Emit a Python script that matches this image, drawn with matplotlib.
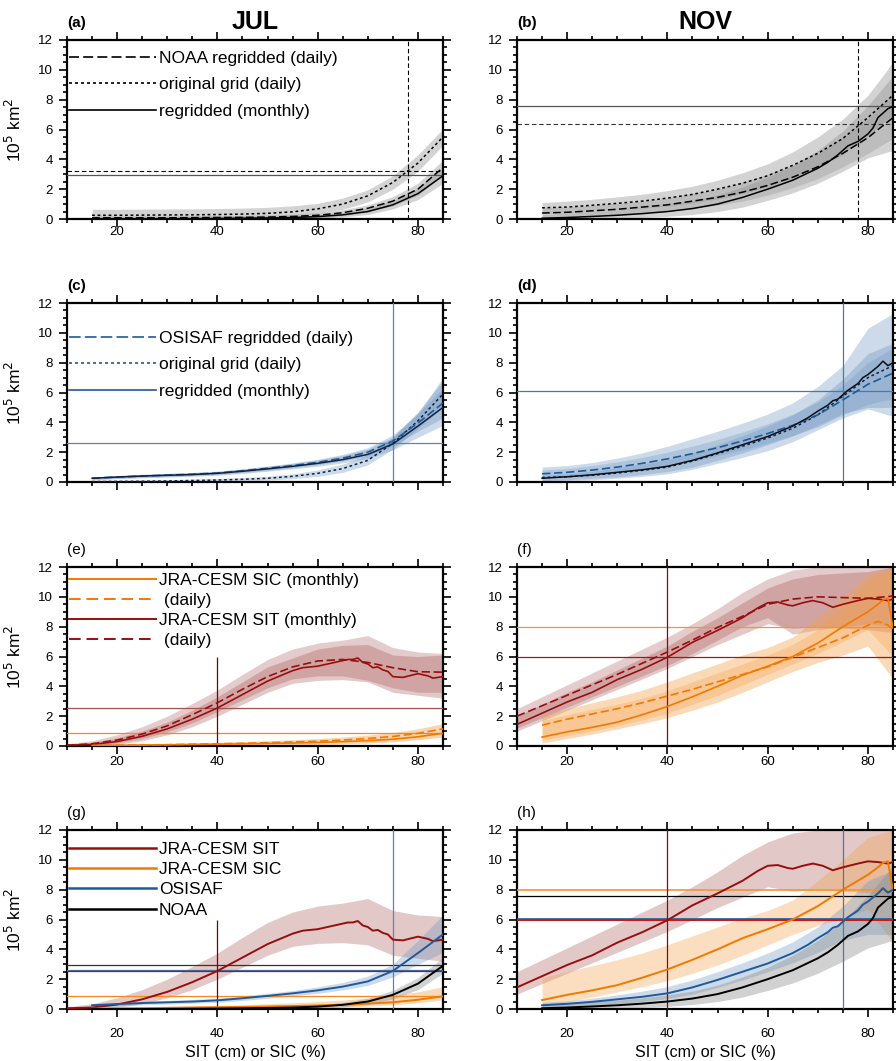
import numpy as np
import matplotlib
matplotlib.use('Agg')
import matplotlib.pyplot as plt
from matplotlib.lines import Line2D
from matplotlib.ticker import MultipleLocator

plt.rcParams['font.family'] = ['Liberation Sans', 'DejaVu Sans']

# ---------------- data ----------------
x_sic = [15, 20, 25, 30, 35, 40, 45, 50, 55, 60, 65, 70, 75, 80, 85]
x_sit = [10, 15, 20, 25, 30, 35, 40, 45, 50, 55, 60, 65, 70, 75, 80, 85]

# NOAA, JUL
noaa_jul_orig = [0.25, 0.25, 0.26, 0.27, 0.28, 0.3, 0.33, 0.38, 0.48, 0.68, 1.0, 1.55, 2.45, 3.75, 5.5]
noaa_jul_orig_lo = [0.0, 0.0, 0.0, 0.0, 0.0, 0.05, 0.08, 0.12, 0.2, 0.38, 0.65, 1.15, 2.0, 3.2, 4.95]
noaa_jul_orig_hi = [0.65, 0.65, 0.66, 0.67, 0.68, 0.7, 0.73, 0.78, 0.88, 1.05, 1.4, 1.95, 2.9, 4.3, 6.05]
noaa_jul_day = [0.08, 0.08, 0.08, 0.08, 0.09, 0.1, 0.11, 0.13, 0.17, 0.25, 0.42, 0.72, 1.2, 2.0, 3.45]
noaa_jul_day_lo = [0.0, 0.0, 0.0, 0.0, 0.0, 0.0, 0.0, 0.0, 0.02, 0.08, 0.22, 0.48, 0.9, 1.6, 2.95]
noaa_jul_day_hi = [0.2, 0.2, 0.2, 0.2, 0.21, 0.22, 0.24, 0.27, 0.32, 0.42, 0.62, 0.95, 1.5, 2.4, 3.95]
noaa_jul_mon = [0.0, 0.0, 0.0, 0.01, 0.02, 0.03, 0.05, 0.07, 0.1, 0.16, 0.28, 0.5, 0.95, 1.7, 2.9]
noaa_jul_mon_lo = [0.0, 0.0, 0.0, 0.0, 0.0, 0.0, 0.0, 0.0, 0.02, 0.06, 0.14, 0.3, 0.68, 1.3, 2.4]
noaa_jul_mon_hi = [0.05, 0.05, 0.06, 0.07, 0.08, 0.1, 0.12, 0.15, 0.2, 0.28, 0.43, 0.72, 1.25, 2.1, 3.45]

# NOAA, NOV
noaa_nov_orig = [0.75, 0.8, 0.92, 1.05, 1.2, 1.4, 1.65, 2.0, 2.4, 2.9, 3.6, 4.4, 5.4, 6.8, 8.3]
noaa_nov_orig_lo = [0.35, 0.4, 0.5, 0.6, 0.72, 0.88, 1.08, 1.35, 1.7, 2.15, 2.75, 3.45, 4.35, 5.6, 7.0]
noaa_nov_orig_hi = [1.1, 1.2, 1.32, 1.48, 1.66, 1.9, 2.2, 2.6, 3.1, 3.7, 4.5, 5.5, 6.7, 8.3, 10.5]
noaa_nov_day = [0.4, 0.45, 0.55, 0.65, 0.8, 0.95, 1.2, 1.45, 1.8, 2.25, 2.8, 3.5, 4.4, 5.45, 6.8]
noaa_nov_day_lo = [0.1, 0.15, 0.22, 0.3, 0.4, 0.52, 0.7, 0.92, 1.2, 1.6, 2.1, 2.7, 3.5, 4.4, 5.4]
noaa_nov_day_hi = [0.75, 0.8, 0.92, 1.05, 1.2, 1.4, 1.7, 2.0, 2.45, 3.0, 3.6, 4.4, 5.5, 6.7, 8.4]
x_noaa_nov_mon = [15, 20, 25, 30, 35, 40, 45, 50, 55, 60, 65, 70, 72, 74, 76, 78, 80, 81, 82, 83, 84, 85]
noaa_nov_mon = [0.05, 0.1, 0.17, 0.25, 0.36, 0.5, 0.7, 1.0, 1.45, 2.0, 2.6, 3.4, 3.8, 4.3, 4.9,
                5.2, 5.7, 6.1, 6.8, 7.1, 7.4, 7.55]
noaa_nov_mon_lo = [0.0, 0.0, 0.02, 0.05, 0.1, 0.18, 0.3, 0.5, 0.8, 1.25, 1.75, 2.4, 3.2, 4.1, 4.6]
noaa_nov_mon_hi = [0.3, 0.4, 0.5, 0.6, 0.75, 0.95, 1.2, 1.6, 2.15, 2.8, 3.6, 4.6, 5.9, 7.6, 9.6]

# OSISAF, JUL
osi_jul_mon = [0.25, 0.33, 0.4, 0.45, 0.5, 0.58, 0.72, 0.88, 1.05, 1.25, 1.5, 1.85, 2.55, 3.75, 5.0]
osi_jul_mon_lo = [0.15, 0.22, 0.28, 0.33, 0.38, 0.45, 0.57, 0.72, 0.88, 1.05, 1.28, 1.58, 2.15, 3.0, 3.8]
osi_jul_mon_hi = [0.35, 0.44, 0.52, 0.58, 0.64, 0.72, 0.88, 1.05, 1.24, 1.48, 1.78, 2.2, 3.0, 4.6, 6.3]
osi_jul_day = [0.25, 0.33, 0.4, 0.46, 0.52, 0.6, 0.75, 0.92, 1.1, 1.32, 1.6, 2.0, 2.75, 3.95, 5.3]
osi_jul_day_lo = [0.18, 0.25, 0.31, 0.36, 0.42, 0.5, 0.63, 0.78, 0.95, 1.15, 1.4, 1.75, 2.4, 3.4, 4.3]
osi_jul_day_hi = [0.33, 0.42, 0.5, 0.57, 0.63, 0.72, 0.88, 1.07, 1.28, 1.52, 1.85, 2.3, 3.15, 4.6, 7.0]
osi_jul_orig = [0.03, 0.04, 0.05, 0.07, 0.1, 0.13, 0.18, 0.25, 0.38, 0.58, 0.9, 1.45, 2.6, 4.1, 5.9]
osi_jul_orig_lo = [0.0, 0.0, 0.0, 0.01, 0.03, 0.05, 0.08, 0.13, 0.22, 0.38, 0.65, 1.15, 2.2, 3.6, 5.0]
osi_jul_orig_hi = [0.08, 0.1, 0.12, 0.15, 0.19, 0.24, 0.3, 0.38, 0.55, 0.8, 1.2, 1.8, 3.0, 4.7, 6.8]

# OSISAF, NOV
osi_nov_day = [0.55, 0.65, 0.8, 1.0, 1.25, 1.55, 1.9, 2.3, 2.75, 3.25, 3.8, 4.5, 5.5, 6.55, 7.3]
osi_nov_day_lo = [0.3, 0.38, 0.5, 0.65, 0.85, 1.1, 1.4, 1.75, 2.15, 2.6, 3.1, 3.7, 4.5, 5.2, 5.6]
osi_nov_day_hi = [0.8, 0.9, 1.1, 1.35, 1.65, 2.0, 2.4, 2.85, 3.35, 3.9, 4.55, 5.35, 6.5, 8.0, 9.0]
osi_nov_orig = [0.3, 0.35, 0.45, 0.6, 0.78, 1.0, 1.4, 1.9, 2.4, 2.95, 3.6, 4.5, 5.75, 7.0, 7.8]
osi_nov_orig_lo = [0.05, 0.1, 0.15, 0.25, 0.38, 0.55, 0.85, 1.25, 1.65, 2.1, 2.7, 3.5, 4.3, 4.9, 4.4]
osi_nov_orig_hi = [1.0, 1.1, 1.3, 1.6, 1.95, 2.4, 2.9, 3.4, 3.95, 4.55, 5.3, 6.4, 7.8, 10.3, 11.3]
x_osi_nov_mon = [15, 20, 25, 30, 35, 40, 45, 50, 55, 60, 65, 68, 70, 72, 73, 74, 76, 78, 79, 80, 82, 83, 84, 85]
osi_nov_mon = [0.25, 0.35, 0.48, 0.65, 0.82, 1.05, 1.45, 1.95, 2.5, 3.05, 3.75, 4.3, 4.75, 5.15, 5.45,
               5.55, 6.15, 6.6, 7.0, 7.2, 7.75, 8.1, 7.8, 8.0]
osi_nov_mon_lo = [0.1, 0.15, 0.25, 0.35, 0.5, 0.7, 1.0, 1.45, 1.95, 2.5, 3.1, 3.8, 4.6, 5.0, 5.0]
osi_nov_mon_hi = [0.45, 0.55, 0.72, 0.95, 1.2, 1.5, 1.95, 2.5, 3.1, 3.75, 4.5, 5.5, 6.9, 8.6, 9.3]

# JRA-CESM SIT, JUL
x_sit_jul_mon = [10, 15, 20, 25, 30, 35, 40, 45, 50, 55, 57, 60, 62, 64, 66, 67, 68, 69, 70, 71,
                 72, 73, 74, 75, 77, 80, 82, 83, 85]
sit_jul_mon = [0.05, 0.1, 0.3, 0.65, 1.15, 1.8, 2.55, 3.45, 4.35, 5.05, 5.25, 5.35, 5.5, 5.65, 5.8,
               5.8, 5.9, 5.6, 5.5, 5.25, 5.3, 5.1, 5.0, 4.65, 4.6, 4.85, 4.7, 4.55, 4.65]
sit_jul_mon_lo = [0.0, 0.02, 0.1, 0.35, 0.75, 1.3, 2.0, 2.8, 3.6, 4.2, 4.4, 4.45, 4.3, 3.6, 3.4, 3.2]
sit_jul_mon_hi = [0.1, 0.25, 0.55, 1.0, 1.6, 2.4, 3.3, 4.3, 5.3, 5.9, 6.5, 6.75, 6.8, 6.1, 6.0, 6.1]
sit_jul_day = [0.05, 0.15, 0.4, 0.8, 1.35, 2.1, 2.9, 3.8, 4.65, 5.3, 5.7, 5.8, 5.6, 5.25, 4.98, 4.95]
sit_jul_day_lo = [0.0, 0.05, 0.2, 0.5, 0.95, 1.55, 2.3, 3.1, 3.9, 4.5, 4.7, 4.7, 4.4, 3.9, 3.6, 3.6]
sit_jul_day_hi = [0.15, 0.35, 0.75, 1.3, 2.0, 2.85, 3.75, 4.8, 5.8, 6.5, 6.9, 7.1, 7.4, 6.6, 6.3, 6.2]

# JRA-CESM SIC, JUL
sic_jul_mon = [0.02, 0.04, 0.06, 0.08, 0.1, 0.12, 0.14, 0.17, 0.2, 0.24, 0.29, 0.36, 0.45, 0.62, 0.85]
sic_jul_day = [0.03, 0.05, 0.07, 0.09, 0.12, 0.15, 0.18, 0.22, 0.27, 0.32, 0.4, 0.5, 0.64, 0.85, 1.15]
sic_jul_lo = [0.0, 0.0, 0.0, 0.0, 0.0, 0.0, 0.01, 0.03, 0.06, 0.1, 0.14, 0.2, 0.28, 0.42, 0.6]
sic_jul_hi = [0.08, 0.1, 0.13, 0.16, 0.2, 0.24, 0.29, 0.35, 0.42, 0.5, 0.6, 0.73, 0.9, 1.15, 1.5]

# JRA-CESM SIT, NOV
x_sit_nov_mon = [10, 15, 20, 25, 30, 35, 40, 45, 50, 55, 58, 60, 62, 64, 65, 67, 69, 71, 73, 75,
                 78, 80, 82, 84, 85]
sit_nov_mon = [1.45, 2.2, 2.95, 3.6, 4.45, 5.15, 5.95, 6.95, 7.75, 8.6, 9.25, 9.6, 9.65, 9.45, 9.4,
               9.6, 9.75, 9.6, 9.3, 9.5, 9.75, 9.9, 9.85, 9.75, 9.85]
sit_nov_mon_lo = [1.0, 1.7, 2.4, 3.1, 3.8, 4.5, 5.2, 6.0, 6.8, 7.5, 8.2, 7.9, 8.0, 7.9, 7.8, 7.6]
sit_nov_mon_hi = [2.0, 2.8, 3.6, 4.3, 5.1, 5.9, 6.7, 7.7, 8.6, 9.6, 10.6, 11.2, 11.5, 11.6, 11.7, 12.0]
sit_nov_day = [2.0, 2.7, 3.4, 4.1, 4.8, 5.55, 6.3, 7.1, 7.95, 8.7, 9.5, 9.85, 10.0, 9.95, 9.9, 10.05]
sit_nov_day_lo = [1.2, 1.9, 2.6, 3.3, 4.0, 4.7, 5.4, 6.2, 7.1, 8.0, 8.6, 7.5, 7.8, 8.0, 8.2, 8.0]
sit_nov_day_hi = [2.5, 3.3, 4.1, 4.9, 5.7, 6.5, 7.3, 8.2, 9.2, 10.3, 11.2, 11.8, 12.0, 12.0, 12.0, 12.0]

# JRA-CESM SIC, NOV
x_sic_nov_mon = [15, 20, 25, 30, 35, 40, 45, 50, 55, 60, 65, 70, 75, 78, 80, 82, 83, 84, 85]
sic_nov_mon = [0.6, 0.95, 1.25, 1.6, 2.1, 2.65, 3.3, 4.0, 4.75, 5.35, 6.0, 6.9, 8.0, 8.6, 9.0,
               9.5, 9.8, 9.9, 7.9]
sic_nov_mon_lo = [0.2, 0.5, 0.8, 1.15, 1.5, 1.9, 2.4, 2.95, 3.6, 4.3, 5.0, 5.6, 6.1, 6.7, 4.5]
sic_nov_mon_hi = [2.1, 2.5, 2.9, 3.3, 3.75, 4.3, 4.9, 5.5, 6.1, 6.6, 7.3, 8.6, 10.0, 11.5, 12.0]
x_sic_nov_day = [15, 20, 25, 30, 35, 40, 45, 50, 55, 60, 65, 70, 75, 80, 82, 84, 85]
sic_nov_day = [1.4, 1.8, 2.15, 2.5, 2.9, 3.35, 3.8, 4.3, 4.8, 5.3, 5.95, 6.6, 7.25, 8.1, 8.35, 8.1, 7.8]
sic_nov_day_lo = [0.4, 0.7, 1.0, 1.35, 1.75, 2.2, 2.8, 3.4, 4.1, 4.8, 5.5, 6.2, 7.0, 7.8, 6.0]
sic_nov_day_hi = [1.7, 2.1, 2.45, 2.8, 3.2, 3.7, 4.3, 4.9, 5.5, 6.1, 6.8, 7.8, 9.3, 11.0, 12.0]

# thresholds (horizontal / vertical reference lines)
noaa_thr = {'JUL': (2.95, 3.25), 'NOV': (7.55, 6.4)}   # (monthly, daily)
noaa_x = 78
osi_thr = {'JUL': 2.6, 'NOV': 6.1}
osi_x = 75
sit_thr = {'JUL': 2.55, 'NOV': 6.0}
sic_thr = {'JUL': 0.88, 'NOV': 7.95}
sit_x = 40
sit_vtop_jul = 6

# ---------------- styles ----------------
BLUE = '#1f5a9a'
NAVY = '#0f2340'
RED = '#980e0e'
ORANGE = '#f07a00'
DASH = (0, (5, 2.2))
DOT = (0, (1.8, 1.8))

GRAY_B = '#8c8c8c'
BLUE_B = '#6f95c0'
RED_B = '#a44a4a'
ORANGE_B = '#f4a04a'


def band(ax, x, lo, hi, col, a=0.4):
    ax.fill_between(x, lo, hi, color=col, alpha=a, lw=0, zorder=1)


def hline(ax, y, col, ls='-', lw=0.9):
    ax.axhline(y, color=col, ls=ls, lw=lw, zorder=3)


def style(ax, tag, bold, xticklab, xpad, title=None):
    ax.set_xlim(10, 85)
    ax.set_ylim(0, 12)
    ax.xaxis.set_major_locator(MultipleLocator(20))
    ax.xaxis.set_minor_locator(MultipleLocator(5))
    ax.yaxis.set_major_locator(MultipleLocator(2))
    ax.yaxis.set_minor_locator(MultipleLocator(0.5))
    ax.tick_params(which='both', direction='out', top=True, right=True,
                   labelsize=9.5, width=1.2)
    ax.tick_params(which='major', length=6)
    ax.tick_params(which='minor', length=3)
    ax.tick_params(axis='y', pad=4)
    ax.tick_params(axis='x', pad=xpad, labelbottom=xticklab)
    for s in ax.spines.values():
        s.set_linewidth(1.6)
    ax.text(0.0, 1.095, tag, transform=ax.transAxes, fontsize=11,
            fontweight='bold' if bold else 'normal', va='center', ha='left')
    if title:
        ax.text(0.5, 1.10, title, transform=ax.transAxes, fontsize=18,
                fontweight='bold', va='center', ha='center')


def leg(ax, items, y0, spacing, lw=1.2):
    handles = [Line2D([], [], color=c, ls=ls, lw=lw) for c, ls, _ in items]
    labels = [t for _, _, t in items]
    ax.legend(handles, labels, loc='upper left', bbox_to_anchor=(0.0, y0),
              frameon=False, fontsize=12.5, handlelength=5.0, handletextpad=0.2,
              labelspacing=spacing, borderpad=0.0, borderaxespad=0.1)


fig = plt.figure(figsize=(8.96, 10.61), dpi=100)
W, H = 896.0, 1061.0
lefts = [67, 517]
width = 376
tops = [40, 303, 567, 830]
height = 179
axs = [[fig.add_axes([l / W, 1 - (t + height) / H, width / W, height / H]) for l in lefts]
       for t in tops]

# ---- (a) NOAA JUL ----
ax = axs[0][0]
band(ax, x_sic, noaa_jul_orig_lo, noaa_jul_orig_hi, GRAY_B, 0.38)
band(ax, x_sic, noaa_jul_day_lo, noaa_jul_day_hi, GRAY_B, 0.38)
band(ax, x_sic, noaa_jul_mon_lo, noaa_jul_mon_hi, GRAY_B, 0.38)
hline(ax, noaa_thr['JUL'][0], '#555555')
hline(ax, noaa_thr['JUL'][1], 'black', ls=(0, (4, 2.5)), lw=0.8)
ax.axvline(noaa_x, color='black', ls=(0, (4, 2.5)), lw=0.8, zorder=3)
ax.plot(x_sic, noaa_jul_orig, color='black', ls=DOT, lw=1.1, zorder=4)
ax.plot(x_sic, noaa_jul_day, color='black', ls=DASH, lw=1.1, zorder=4)
ax.plot(x_sic, noaa_jul_mon, color='black', lw=1.1, zorder=4)
style(ax, '(a)', True, True, -1, 'JUL')
leg(ax, [('black', (0, (6, 2.5)), 'NOAA regridded (daily)'),
         ('black', DOT, 'original grid (daily)'),
         ('black', '-', 'regridded (monthly)')], 0.95, 0.65)

# ---- (b) NOAA NOV ----
ax = axs[0][1]
band(ax, x_sic, noaa_nov_orig_lo, noaa_nov_orig_hi, GRAY_B, 0.38)
band(ax, x_sic, noaa_nov_day_lo, noaa_nov_day_hi, GRAY_B, 0.3)
band(ax, x_sic, noaa_nov_mon_lo, noaa_nov_mon_hi, GRAY_B, 0.38)
hline(ax, noaa_thr['NOV'][0], '#555555')
hline(ax, noaa_thr['NOV'][1], '#333333', ls=(0, (4, 2.5)), lw=0.8)
ax.axvline(noaa_x, color='black', ls=(0, (4, 2.5)), lw=0.8, zorder=3)
ax.plot(x_sic, noaa_nov_orig, color='black', ls=DOT, lw=1.1, zorder=4)
ax.plot(x_sic, noaa_nov_day, color='black', ls=DASH, lw=1.1, zorder=4)
ax.plot(x_noaa_nov_mon, noaa_nov_mon, color='black', lw=1.1, zorder=4)
style(ax, '(b)', True, True, -1, 'NOV')

# ---- (c) OSISAF JUL ----
ax = axs[1][0]
band(ax, x_sic, osi_jul_orig_lo, osi_jul_orig_hi, BLUE_B, 0.35)
band(ax, x_sic, osi_jul_day_lo, osi_jul_day_hi, BLUE_B, 0.35)
band(ax, x_sic, osi_jul_mon_lo, osi_jul_mon_hi, BLUE_B, 0.35)
hline(ax, osi_thr['JUL'], '#5a86b6')
ax.axvline(osi_x, color='#5a86b6', lw=0.9, zorder=3)
ax.plot(x_sic, osi_jul_orig, color=NAVY, ls=DOT, lw=1.1, zorder=4)
ax.plot(x_sic, osi_jul_day, color=BLUE, ls=DASH, lw=1.2, zorder=4)
ax.plot(x_sic, osi_jul_mon, color=NAVY, lw=1.1, zorder=4)
style(ax, '(c)', True, False, 2)
leg(ax, [(BLUE, (0, (7, 2.5)), 'OSISAF regridded (daily)'),
         (BLUE, DOT, 'original grid (daily)'),
         (BLUE, '-', 'regridded (monthly)')], 0.855, 0.65)

# ---- (d) OSISAF NOV ----
ax = axs[1][1]
band(ax, x_sic, osi_nov_orig_lo, osi_nov_orig_hi, BLUE_B, 0.35)
band(ax, x_sic, osi_nov_day_lo, osi_nov_day_hi, BLUE_B, 0.3)
band(ax, x_sic, osi_nov_mon_lo, osi_nov_mon_hi, BLUE_B, 0.35)
hline(ax, osi_thr['NOV'], '#4a78ab')
ax.axvline(osi_x, color='#4a78ab', lw=0.9, zorder=3)
ax.plot(x_sic, osi_nov_orig, color=NAVY, ls=DOT, lw=1.1, zorder=4)
ax.plot(x_sic, osi_nov_day, color=BLUE, ls=DASH, lw=1.2, zorder=4)
ax.plot(x_osi_nov_mon, osi_nov_mon, color='#0a0f1a', lw=1.1, zorder=4)
style(ax, '(d)', True, False, 2)

# ---- (e) JRA-CESM JUL ----
ax = axs[2][0]
band(ax, x_sit, sit_jul_day_lo, sit_jul_day_hi, RED_B, 0.28)
band(ax, x_sit, sit_jul_mon_lo, sit_jul_mon_hi, RED_B, 0.3)
band(ax, x_sic, sic_jul_lo, sic_jul_hi, ORANGE_B, 0.45)
hline(ax, sit_thr['JUL'], '#a65050')
hline(ax, sic_thr['JUL'], '#f38a20')
ax.vlines(sit_x, 0, sit_vtop_jul, color='#7a0000', lw=0.9, zorder=3)
ax.plot(x_sit, sit_jul_day, color=RED, ls=DASH, lw=1.2, zorder=4)
ax.plot(x_sit_jul_mon, sit_jul_mon, color=RED, lw=1.2, zorder=4)
ax.plot(x_sic, sic_jul_day, color=ORANGE, ls=DASH, lw=1.2, zorder=4)
ax.plot(x_sic, sic_jul_mon, color=ORANGE, lw=1.2, zorder=4)
style(ax, '(e)', False, True, 1.5)
leg(ax, [(ORANGE, '-', 'JRA-CESM SIC (monthly)'),
         (ORANGE, (0, (6, 3)), ' (daily)'),
         (RED, '-', 'JRA-CESM SIT (monthly)'),
         (RED, (0, (6, 3)), ' (daily)')], 0.975, 0.27, lw=1.4)

# ---- (f) JRA-CESM NOV ----
ax = axs[2][1]
band(ax, x_sit, sit_nov_day_lo, sit_nov_day_hi, RED_B, 0.28)
band(ax, x_sit, sit_nov_mon_lo, sit_nov_mon_hi, RED_B, 0.3)
band(ax, x_sic, sic_nov_mon_lo, sic_nov_mon_hi, ORANGE_B, 0.4)
band(ax, x_sic, sic_nov_day_lo, sic_nov_day_hi, ORANGE_B, 0.3)
hline(ax, sic_thr['NOV'], '#f39530')
hline(ax, sit_thr['NOV'], '#a01818')
ax.axvline(sit_x, color='#8a0a0a', lw=0.9, zorder=3)
ax.plot(x_sit, sit_nov_day, color=RED, ls=DASH, lw=1.2, zorder=4)
ax.plot(x_sit_nov_mon, sit_nov_mon, color=RED, lw=1.2, zorder=4)
ax.plot(x_sic_nov_day, sic_nov_day, color=ORANGE, ls=DASH, lw=1.2, zorder=4)
ax.plot(x_sic_nov_mon, sic_nov_mon, color=ORANGE, lw=1.2, zorder=4)
style(ax, '(f)', False, True, 1.5)

# ---- (g) all JUL ----
ax = axs[3][0]
band(ax, x_sit, sit_jul_mon_lo, sit_jul_day_hi, RED_B, 0.3)
band(ax, x_sic, sic_jul_lo, sic_jul_hi, ORANGE_B, 0.4)
band(ax, x_sic, osi_jul_mon_lo, osi_jul_mon_hi, BLUE_B, 0.35)
band(ax, x_sic, noaa_jul_mon_lo, noaa_jul_mon_hi, GRAY_B, 0.4)
hline(ax, noaa_thr['JUL'][0], '#333333')
hline(ax, osi_thr['JUL'], '#4a6fa0')
hline(ax, sit_thr['JUL'], '#6a2a4a')
hline(ax, sic_thr['JUL'], '#f38a20')
ax.vlines(sit_x, 0, sit_vtop_jul, color='#7a0000', lw=0.9, zorder=3)
ax.axvline(osi_x, color='#5a86b6', lw=0.9, zorder=3)
ax.plot(x_sit_jul_mon, sit_jul_mon, color=RED, lw=1.4, zorder=4)
ax.plot(x_sic, sic_jul_mon, color=ORANGE, lw=1.4, zorder=4)
ax.plot(x_sic, osi_jul_mon, color=BLUE, lw=1.4, zorder=4)
ax.plot(x_sic, noaa_jul_mon, color='black', lw=1.4, zorder=4)
style(ax, '(g)', False, True, 8)
leg(ax, [(RED, '-', 'JRA-CESM SIT'),
         (ORANGE, '-', 'JRA-CESM SIC'),
         (BLUE, '-', 'OSISAF'),
         ('black', '-', 'NOAA')], 0.945, 0.3, lw=1.8)
ax.set_xlabel('SIT (cm) or SIC (%)', fontsize=11.5, labelpad=3)

# ---- (h) all NOV ----
ax = axs[3][1]
band(ax, x_sit, sit_nov_mon_lo, sit_nov_day_hi, RED_B, 0.3)
band(ax, x_sic, sic_nov_mon_lo, sic_nov_mon_hi, ORANGE_B, 0.35)
band(ax, x_sic, osi_nov_mon_lo, osi_nov_mon_hi, BLUE_B, 0.35)
band(ax, x_sic, noaa_nov_mon_lo, noaa_nov_mon_hi, GRAY_B, 0.4)
hline(ax, sic_thr['NOV'], '#f39530', lw=1.2)
hline(ax, noaa_thr['NOV'][0], 'black')
hline(ax, sit_thr['NOV'], '#d01010', lw=1.4)
hline(ax, osi_thr['NOV'] - 0.05, BLUE, lw=1.2)
ax.axvline(sit_x, color='#8a0a0a', lw=0.9, zorder=3)
ax.axvline(osi_x, color='#4a78ab', lw=0.9, zorder=3)
ax.plot(x_sit_nov_mon, sit_nov_mon, color=RED, lw=1.4, zorder=4)
ax.plot(x_sic_nov_mon, sic_nov_mon, color=ORANGE, lw=1.4, zorder=4)
ax.plot(x_osi_nov_mon, osi_nov_mon, color=BLUE, lw=1.4, zorder=4)
ax.plot(x_noaa_nov_mon, noaa_nov_mon, color='black', lw=1.4, zorder=4)
style(ax, '(h)', False, True, 8)
ax.set_xlabel('SIT (cm) or SIC (%)', fontsize=11.5, labelpad=3)

for row in axs:
    row[0].set_ylabel('10$^5$ km$^2$', fontsize=12.5)
    row[0].yaxis.set_label_coords(-0.115, 0.5)

fig.savefig('out.png', dpi=100)
